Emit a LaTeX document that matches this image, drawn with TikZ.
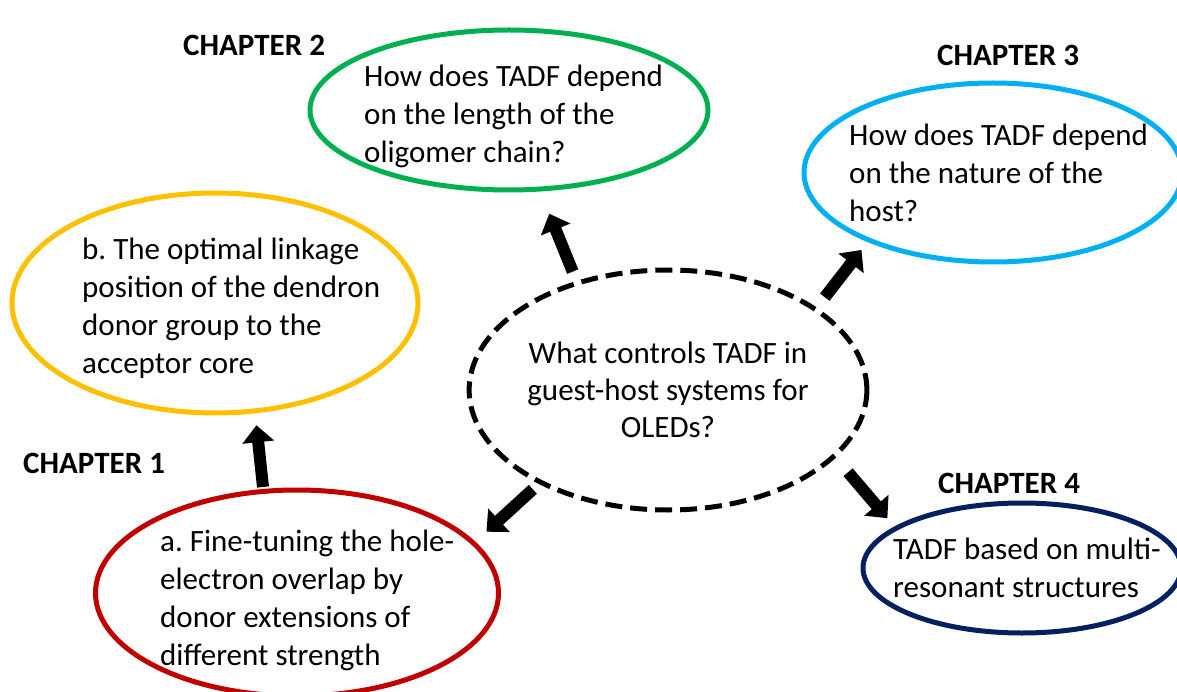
\documentclass[tikz,border=0pt]{standalone}
\usepackage{fontspec}
\setmainfont{Carlito}
\frenchspacing
\usetikzlibrary{arrows.meta, shapes.geometric}
\definecolor{chgreen}{HTML}{00B050}
\definecolor{chblue}{HTML}{00B0F0}
\definecolor{chyellow}{HTML}{FFC000}
\definecolor{chred}{HTML}{C00000}
\definecolor{chnavy}{HTML}{002060}
\tikzset{bubble/.style={ellipse, draw=#1, line width=5pt, inner sep=0pt},
    question/.style={anchor=base west, align=left, inner sep=0pt,
        font=\fontsize{31}{38}\selectfont},
    chapter/.style={anchor=base west, inner sep=0pt,
        font=\fontsize{31}{38}\selectfont\bfseries},
    fat/.style={line width=12pt, -{Triangle[length=17pt, width=31pt]}}}

\begin{document}
\begin{tikzpicture}[x=1pt, y=-1pt]
        \useasboundingbox (0,0) rectangle (1177,692);
        \node[bubble=black, dash pattern=on 17pt off 8pt, minimum width=397pt, minimum height=240pt,
            align=center, font=\fontsize{31}{37}\selectfont] (hub) at (668,390)
            {What controls TADF in\\guest-host systems for\\OLEDs?};
        \node[bubble=chgreen, minimum width=398pt, minimum height=160pt] (oligo) at (509,110) {};
        \node[bubble=chblue, minimum width=378pt, minimum height=179pt] (host) at (993,172.5) {};
        \node[bubble=chyellow, minimum width=406pt, minimum height=220pt] (link) at (215,303) {};
        \node[bubble=chred, minimum width=403pt, minimum height=206pt] (donor) at (297,593) {};
        \node[bubble=chnavy, minimum width=318pt, minimum height=130pt] (mres) at (1022,568) {};
        % texts sit on the baseline of their last line
        \node[question] (oligoq) at (364,163) {How does TADF depend\\on the length of the\\oligomer chain?};
        \node[question] (hostq) at (849,222) {How does TADF depend\\on the nature of the\\host?};
        \node[question] (linkq) at (82,373) {b. The optimal linkage\\position of the dendron\\donor group to the\\acceptor core};
        \node[question] (donorq) at (160,665) {a. Fine-tuning the hole-\\electron overlap by\\donor extensions of\\different strength};
        \node[question] (mresq) at (893,597) {TADF based on multi-\\resonant structures};
        \node[chapter] (ch1) at (23,473) {CHAPTER 1};
        \node[chapter] (ch2) at (183,56) {CHAPTER 2};
        \node[chapter] (ch3) at (937,66) {CHAPTER 3};
        \node[chapter] (ch4) at (938,493) {CHAPTER 4};
        \draw[fat, shorten <=10pt, shorten >=24pt] (hub.130) -- (oligo.-69);
        \draw[fat, shorten <=13pt, shorten >=10pt] (hub.29.5) -- (host.209);
        \draw[fat, shorten <=8pt, shorten >=15pt] (hub.216) -- (donor.16.5);
        \draw[fat, shorten <=19pt, shorten >=11pt] (hub.-22) -- (mres.162);
        \draw[fat, shorten <=2pt, shorten >=12pt] (donor.108) -- (link.-70);
    \end{tikzpicture}
\end{document}
